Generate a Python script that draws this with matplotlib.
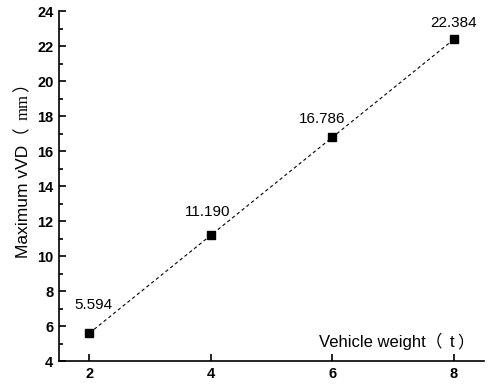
import matplotlib
matplotlib.use("Agg")
import matplotlib.pyplot as plt
from matplotlib.ticker import MultipleLocator

weights = [2, 4, 6, 8]
max_vvd = [5.594, 11.190, 16.786, 22.384]
value_labels = ["5.594", "11.190", "16.786", "22.384"]
label_offsets = [(3, 15), (-2, 12), (-7, 8), (0, 6.5)]
x_ticks = [2, 4, 6, 8]
y_ticks = [4, 6, 8, 10, 12, 14, 16, 18, 20, 22, 24]

sans = ["Liberation Sans", "Noto Sans CJK SC"]
cjk = ["Noto Sans CJK SC"]
serif = ["Liberation Serif"]
plt.rcParams["font.family"] = sans

W, H = 488, 385
fig = plt.figure(figsize=(W / 100, H / 100), dpi=100)
ax = fig.add_axes([0.121, 0.0623, 0.871, 0.9087])

ax.plot(weights, max_vvd, color="black", linestyle=(0, (3, 2.5)), linewidth=0.8,
        marker="s", markersize=6, markerfacecolor="black", markeredgecolor="black")

for x, y, txt, (dx, dy) in zip(weights, max_vvd, value_labels, label_offsets):
    ax.annotate(txt, (x, y), xytext=(dx, dy), textcoords="offset points",
                ha="center", va="bottom", fontsize=11)

ax.set_xlim(1.5, 8.5)
ax.set_ylim(4, 24)
ax.set_xticks(x_ticks)
ax.set_xticklabels([str(t) for t in x_ticks], fontweight="bold", fontsize=10.5)
ax.set_yticks(y_ticks)
ax.set_yticklabels([str(t) for t in y_ticks], fontweight="bold", fontsize=10.5)
ax.yaxis.set_minor_locator(MultipleLocator(1))

ax.spines["top"].set_visible(False)
ax.spines["right"].set_visible(False)
for s in ("left", "bottom"):
    ax.spines[s].set_linewidth(1.2)

ax.tick_params(axis="both", which="major", direction="in", length=5, width=1.2, pad=4)
ax.tick_params(axis="y", which="minor", direction="in", length=3, width=1.2)

renderer = fig.canvas.get_renderer()


def place_pieces(px, py, pieces, rotation=0):
    # pieces: (text, family, size, gap in px before the piece); px/py from top-left
    pos = 0.0
    for s, fam, size, gap in pieces:
        pos += gap
        probe = fig.text(0, 0, s, family=fam, fontsize=size)
        width = probe.get_window_extent(renderer).width
        probe.remove()
        if rotation:
            x, y = px, py - pos
        else:
            x, y = px + pos, py
        fig.text(x / W, 1 - y / H, s, family=fam, fontsize=size,
                 rotation=rotation, rotation_mode="anchor",
                 ha="left", va="baseline")
        pos += width


place_pieces(28, 258, [("Maximum vVD（", sans, 12.5, 0),
                       ("mm", serif, 12, 7), ("）", cjk, 12.5, 2)], rotation=90)
place_pieces(319, 347, [("Vehicle weight（", sans, 12, 0),
                        ("t", sans, 12, 7), ("）", cjk, 12, 3)])

fig.savefig("out.png", dpi=100)
